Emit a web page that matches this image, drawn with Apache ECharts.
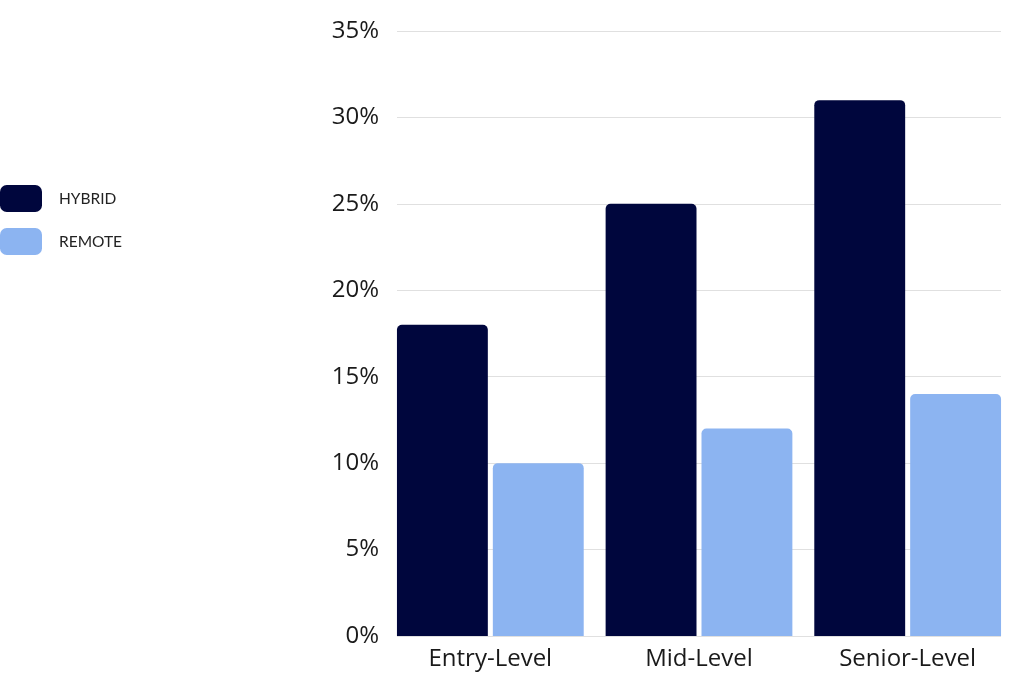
<!DOCTYPE html>
<html><head><meta charset="utf-8">
<script src="https://cdn.jsdelivr.net/npm/echarts@6/dist/echarts.min.js"></script>
<style>html,body{margin:0;padding:0;background:#fff}#c{width:1024px;height:695px}</style>
</head><body><div id="c"></div>
<script>
const categories = ['Entry-Level', 'Mid-Level', 'Senior-Level'];
const hybrid = [18, 25, 31];
const remote = [10, 12, 14];
const yTicks = [0, 5, 10, 15, 20, 25, 30, 35];

const chart = echarts.init(document.getElementById('c'));
const font = 'Open Sans';
chart.setOption({
  animation: false,
  legend: {
    left: 0, top: 185, orient: 'vertical', padding: 0,
    itemWidth: 42, itemHeight: 27, itemGap: 16,
    icon: 'roundRect',
    textStyle: { fontFamily: 'Lato', fontSize: 15.5, color: '#222', padding: [0, 0, 0, 12] },
    data: ['HYBRID', 'REMOTE']
  },
  grid: [
    { left: 397, right: 23, top: 31, bottom: 59 },
    { left: 386, right: 12, top: 31, bottom: 59 }
  ],
  xAxis: [
    { gridIndex: 0, type: 'category', data: categories, show: false },
    {
      gridIndex: 1, type: 'category', data: categories,
      axisLine: { show: false }, axisTick: { show: false },
      axisLabel: { fontFamily: font, fontSize: 24, color: '#1a1a1a', margin: 11 }
    }
  ],
  yAxis: [
    {
      gridIndex: 0, type: 'value', min: yTicks[0], max: yTicks[yTicks.length - 1], interval: 5,
      axisLine: { show: false }, axisTick: { show: false },
      axisLabel: { fontFamily: font, fontSize: 24, color: '#1a1a1a', margin: 18, formatter: v => v + '%' },
      splitLine: { lineStyle: { color: '#e0e0e0', width: 1 } }
    },
    {
      gridIndex: 1, type: 'value', min: yTicks[0], max: yTicks[yTicks.length - 1], interval: 5,
      show: false, splitLine: { show: false }
    }
  ],
  series: [
    {
      name: 'HYBRID', type: 'bar', xAxisIndex: 1, yAxisIndex: 1, data: hybrid,
      barCategoryGap: '10.5%', barGap: '5.5%',
      itemStyle: { color: '#00063d', borderRadius: [5, 5, 0, 0] }
    },
    {
      name: 'REMOTE', type: 'bar', xAxisIndex: 1, yAxisIndex: 1, data: remote,
      barCategoryGap: '10.5%', barGap: '5.5%',
      itemStyle: { color: '#8cb4f1', borderRadius: [5, 5, 0, 0] }
    }
  ]
});
</script></body></html>
